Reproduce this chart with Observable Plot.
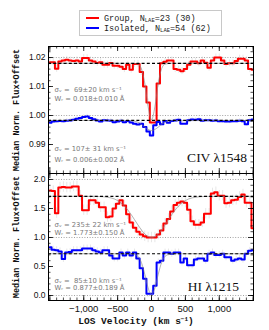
<!DOCTYPE html>
<html><head><meta charset="utf-8">
<script src="https://cdn.jsdelivr.net/npm/d3@7"></script>
<script src="https://cdn.jsdelivr.net/npm/@observablehq/plot@0.6"></script>
<style>
body{margin:0;background:#fff;}
#wrap{position:relative;width:269px;height:330px;overflow:hidden;background:#fff;}
#wrap svg{position:absolute;left:0;}
.legend{position:absolute;left:79px;top:10px;width:141px;height:24px;border:1px solid #c8c8c8;font-family:"Liberation Mono","DejaVu Sans Mono",monospace;font-size:8.5px;color:#222;}
.legend .row{position:absolute;left:6px;height:10px;line-height:10px;white-space:nowrap;}
.legend .sw{display:inline-block;width:13px;height:0;border-top:2px solid;vertical-align:middle;margin-right:5px;position:relative;top:-1px;}
.legend sub{font-size:5.5px;vertical-align:-1px;}
.ytitle{position:absolute;width:140px;height:10px;line-height:10px;text-align:center;font-family:"Liberation Mono","DejaVu Sans Mono",monospace;font-weight:bold;font-size:8.5px;transform:rotate(-90deg);white-space:nowrap;color:#111;}
.xtitle{position:absolute;top:315px;left:36px;width:200px;text-align:center;height:10px;line-height:10px;font-family:"Liberation Mono","DejaVu Sans Mono",monospace;font-weight:bold;font-size:9.5px;white-space:nowrap;color:#111;}
.xtitle sup{font-size:6px;vertical-align:3px;}
</style></head>
<body><div id="wrap"></div>
<script>
// ---- data ----
const velocity = d3.range(-1500, 1501, 50); // bin centres, km/s
const civGroup = [1.0184,1.0184,1.0161,1.0186,1.0190,1.0192,1.0190,1.0188,1.0190,1.0186,
  1.0198,1.0198,1.0190,1.0186,1.0181,1.0184,1.0175,1.0175,1.0181,1.0172,
  1.0172,1.0168,1.0160,1.0175,1.0158,1.0178,1.0178,1.0150,1.0100,1.0045,
  0.9976,0.9976,1.0110,1.0180,1.0185,1.0190,1.0190,1.0160,1.0158,1.0153,
  1.0160,1.0175,1.0186,1.0186,1.0180,1.0190,1.0182,1.0165,1.0190,1.0200,
  1.0200,1.0190,1.0178,1.0180,1.0180,1.0188,1.0196,1.0196,1.0190,1.0160,1.0158];
const civIsolated = [0.9975,0.9979,0.9980,0.9981,0.9980,0.9982,0.9983,0.9985,0.9989,0.9991,
  0.9995,0.9997,0.9991,0.9987,0.9983,0.9979,0.9984,0.9983,0.9982,0.9977,
  0.9979,0.9982,0.9977,0.9981,0.9976,0.9972,0.9969,0.9972,0.9960,0.9945,
  0.9931,0.9966,0.9978,0.9970,0.9981,0.9975,0.9981,0.9983,0.9985,0.9972,
  0.9972,0.9984,0.9986,0.9985,0.9987,0.9982,0.9984,0.9984,0.9982,0.9983,
  0.9980,0.9980,0.9979,0.9979,0.9980,0.9980,0.9982,0.9980,0.9970,0.9984,0.9986];
const hiGroup = [1.81,1.80,1.42,1.86,1.87,1.86,1.86,1.88,1.88,1.72,
  1.47,1.47,1.64,1.64,1.60,1.52,1.52,1.35,1.36,1.50,
  1.58,1.64,1.55,1.40,1.26,1.17,1.10,1.05,1.02,1.00,
  1.00,1.00,1.05,1.12,1.24,1.32,1.45,1.56,1.60,1.62,
  1.60,1.48,1.28,1.22,1.22,1.26,1.41,1.41,1.76,1.78,
  1.72,1.72,1.59,1.60,1.64,1.65,1.70,1.74,1.60,1.60,1.16];
const hiIsolated = [0.83,0.79,0.78,0.76,0.63,0.74,0.75,0.78,0.78,0.78,
  0.81,0.81,0.81,0.78,0.76,0.74,0.78,0.78,0.69,0.64,
  0.64,0.74,0.69,0.74,0.69,0.74,0.64,0.47,0.29,0.03,
  0.03,0.17,0.57,0.60,0.74,0.74,0.72,0.74,0.74,0.57,
  0.64,0.52,0.52,0.62,0.64,0.64,0.60,0.72,0.74,0.70,
  0.70,0.72,0.66,0.66,0.60,0.62,0.64,0.62,0.72,0.77,0.78];
const civErrors = [0.0012, 0.0007];     // group, isolated
const hiErrors = [0.09, 0.06];
const civContinuum = [1.018, 0.9983];
const civZero = [1.02, 1.00];
const hiContinuum = [1.71, 0.72];
const hiZero = [2.0, 1.0, 0.0];
// Gaussian fit curves
const fitVelocity = [-1500,-300,-200,-150,-100,-50,0,50,100,150,200,300,1500];
const civGroupFit = [1.018,1.0180,1.0177,1.0162,1.0112,1.0030,0.9985,1.0030,1.0112,1.0162,1.0177,1.0180,1.018];
const civIsolatedFit = [0.9983,0.9982,0.9977,0.9970,0.9960,0.9952,0.9948,0.9952,0.9960,0.9970,0.9977,0.9982,0.9983];
const hiFitVelocity = [-1500,-800,-600,-500,-400,-300,-200,-100,0,100,200,300,400,500,600,800,1500];
const hiGroupFit = [1.71,1.708,1.683,1.636,1.543,1.395,1.216,1.062,1.0,1.062,1.216,1.395,1.543,1.636,1.683,1.708,1.71];
const hiIsoFitVelocity = [-1500,-300,-200,-150,-100,-50,0,50,100,150,200,300,1500];
const hiIsolatedFit = [0.72,0.72,0.676,0.572,0.37,0.131,0.02,0.131,0.37,0.572,0.676,0.72,0.72];
const xMajor = [-1500,-1000,-500,0,500,1000,1500];
const xLabels = [-1000,-500,0,500,1000];
const civMajor = [0.99,1.00,1.01,1.02];
const hiMajor = [0.0,0.5,1.0,1.5,2.0];
const annotations = {
  civ: [["σᵥ =  69±20 km s⁻¹", 1.0090], ["Wᵣ = 0.018±0.010 Å", 1.0057], ["σᵥ = 107± 31 km s⁻¹", 0.9886], ["Wᵣ = 0.006±0.002 Å", 0.9848]],
  hi: [["σᵥ = 235± 22 km s⁻¹", 1.224], ["Wᵣ = 1.773±0.150 Å", 1.078], ["σᵥ =  85±10 km s⁻¹", 0.259], ["Wᵣ = 0.877±0.189 Å", 0.138]]
};

// ---- layout ----
const W = 269, ML = 48, MR = 16, PW = W - ML - MR;
const xDomain = [-1520, 1505];
const RED = "#ff0000", BLUE = "#0000ff";
const minorX = d3.range(-1500, 1501, 100);

function ticksMarks(yMajor, yMinor, ph) {
  return [
    Plot.tickY(yMajor, {y: d => d, insetRight: PW - 5, stroke: "#000", strokeWidth: 0.8}),
    Plot.tickY(yMajor, {y: d => d, insetLeft: PW - 5, stroke: "#000", strokeWidth: 0.8}),
    Plot.tickY(yMinor, {y: d => d, insetRight: PW - 2.5, stroke: "#000", strokeWidth: 0.7}),
    Plot.tickY(yMinor, {y: d => d, insetLeft: PW - 2.5, stroke: "#000", strokeWidth: 0.7}),
    Plot.tickX(xMajor, {x: d => d, insetTop: ph - 5, stroke: "#000", strokeWidth: 0.8}),
    Plot.tickX(xMajor, {x: d => d, insetBottom: ph - 5, stroke: "#000", strokeWidth: 0.8}),
    Plot.tickX(minorX, {x: d => d, insetTop: ph - 2.5, stroke: "#000", strokeWidth: 0.7}),
    Plot.tickX(minorX, {x: d => d, insetBottom: ph - 2.5, stroke: "#000", strokeWidth: 0.7})
  ];
}
function series(vals) { return velocity.map((v, i) => ({v, f: vals[i]})); }
function fit(vs, fs) { return vs.map((v, i) => ({v, f: fs[i]})); }

function panel({yDomain, vals, errs, fits, cont, zero, yMajor, yMinor, fmt, ph, mt, mb, notes, ion, ionY, ionX, showX}) {
  const marks = [];
  vals.forEach((vv, j) => marks.push(Plot.ruleX(series(vv), {x: "v", y1: d => d.f - errs[j], y2: d => d.f + errs[j], stroke: "#dcdcdc", strokeWidth: 0.7})));
  marks.push(Plot.ruleY(zero, {y: d => d, stroke: "#8a8a8a", strokeDasharray: "1,1.6", strokeWidth: 0.8}));
  vals.forEach((vv, j) => marks.push(Plot.line(series(vv), {x: "v", y: "f", curve: "step", stroke: j === 0 ? RED : BLUE, strokeWidth: 2})));
  fits.forEach(([vs, fs]) => marks.push(Plot.line(fit(vs, fs), {x: "v", y: "f", curve: "monotone-x", stroke: "#808080", strokeWidth: 0.6})));
  marks.push(Plot.ruleY(cont, {y: d => d, stroke: "#000", strokeDasharray: "3,2.2", strokeWidth: 1.2}));
  marks.push(Plot.text(notes, {x: -1430, y: d => d[1], text: d => d[0], textAnchor: "start", fill: "#7a7a7a", fontSize: 6.8, fontFamily: "DejaVu Sans, sans-serif"}));
  marks.push(Plot.text([ion], {x: ionX, y: ionY, text: d => d, textAnchor: "end", fill: "#111", fontSize: 13.5, fontFamily: "Liberation Serif, serif"}));
  marks.push(...ticksMarks(yMajor, yMinor, ph));
  marks.push(Plot.axisY(yMajor, {anchor: "left", tickSize: 0, tickPadding: 3, tickFormat: fmt, fontSize: 8.5, fill: "#111", label: null}));
  if (showX) marks.push(Plot.axisX(xLabels, {anchor: "bottom", tickSize: 0, tickPadding: 5, fontSize: 9.5, fill: "#111", label: null}));
  marks.push(Plot.frame({stroke: "#000", strokeWidth: 1}));
  return Plot.plot({
    width: W, height: ph + mt + mb,
    marginLeft: ML, marginRight: MR, marginTop: mt, marginBottom: mb,
    x: {domain: xDomain, axis: null, label: null},
    y: {domain: yDomain, axis: null, label: null},
    style: {fontFamily: "Liberation Sans, Arial, sans-serif", background: "transparent", overflow: "visible"},
    marks
  });
}

const wrap = document.getElementById("wrap");
const topPanel = panel({
  yDomain: [0.98, 1.0238], vals: [civGroup, civIsolated], errs: civErrors,
  fits: [[fitVelocity, civGroupFit], [fitVelocity, civIsolatedFit]],
  cont: civContinuum, zero: civZero, yMajor: civMajor, yMinor: d3.range(0.982, 1.0235, 0.002),
  fmt: d3.format(".2f"), ph: 127, mt: 6, mb: 0, notes: annotations.civ,
  ion: "CIV λ1548", ionY: 0.9855, ionX: 1410, showX: false
});
topPanel.style.top = "40px";
wrap.appendChild(topPanel);
const bottomPanel = panel({
  yDomain: [-0.086, 2.103], vals: [hiGroup, hiIsolated], errs: hiErrors,
  fits: [[hiFitVelocity, hiGroupFit], [hiIsoFitVelocity, hiIsolatedFit]],
  cont: hiContinuum, zero: hiZero, yMajor: hiMajor, yMinor: d3.range(0, 2.05, 0.1),
  fmt: d3.format(".1f"), ph: 127, mt: 0, mb: 30, notes: annotations.hi,
  ion: "HI λ1215", ionY: 0.155, ionX: 1290, showX: true
});
bottomPanel.style.top = "173px";
wrap.appendChild(bottomPanel);

// legend and titles
const legend = document.createElement("div");
legend.className = "legend";
legend.innerHTML = `<div class="row" style="top:3px"><span class="sw" style="border-color:${RED}"></span>Group, N<sub>LAE</sub>=23 (30)</div>
<div class="row" style="top:13px"><span class="sw" style="border-color:${BLUE}"></span>Isolated, N<sub>LAE</sub>=54 (62)</div>`;
wrap.appendChild(legend);
[109.5, 236.5].forEach(cy => {
  const t = document.createElement("div");
  t.className = "ytitle";
  t.textContent = "Median Norm. Flux+Offset";
  t.style.left = (17 - 70) + "px";
  t.style.top = (cy - 5) + "px";
  wrap.appendChild(t);
});
const xt = document.createElement("div");
xt.className = "xtitle";
xt.innerHTML = "LOS Velocity (km s<sup>−1</sup>)";
wrap.appendChild(xt);
</script></body></html>
